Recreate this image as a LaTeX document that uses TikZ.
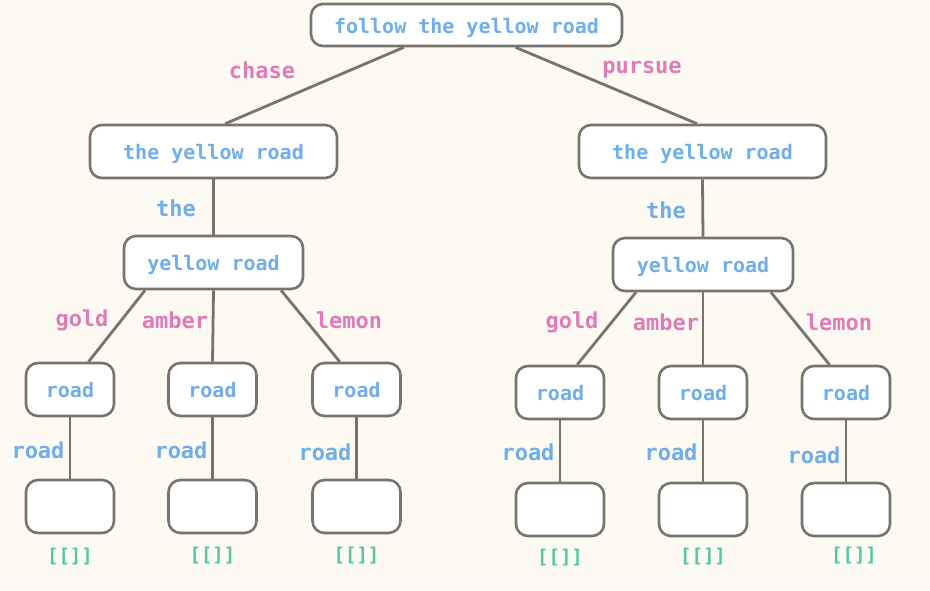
\documentclass[tikz,border=0pt]{standalone}
\usepackage{fontspec}
\setmonofont{DejaVu Sans Mono}
\usetikzlibrary{calc}
\definecolor{bg}{HTML}{FDF9F3}
\definecolor{edgec}{HTML}{77746E}
\definecolor{bluet}{HTML}{70AEEA}
\definecolor{pinkt}{HTML}{E07BB8}
\definecolor{greent}{HTML}{52C89E}
\tikzset{
  box/.style={draw=edgec, line width=2.6pt, fill=white, rounded corners=12pt, inner sep=0pt,
    font=\ttfamily\bfseries\fontsize{20}{20}\selectfont, text=bluet, minimum height=53pt,
    text height=16pt, text depth=0pt},
  edge/.style={draw=edgec, line width=2.8pt},
  elab/.style={inner sep=0pt, font=\ttfamily\bfseries\fontsize{22}{22}\selectfont, text=pinkt},
  blab/.style={inner sep=0pt, font=\ttfamily\bfseries\fontsize{22}{22}\selectfont, text=bluet},
  glab/.style={inner sep=0pt, font=\ttfamily\bfseries\fontsize{19}{19}\selectfont, text=greent},
}
\begin{document}
\begin{tikzpicture}[x=1pt,y=-1pt]
\fill[bg] (0,0) rectangle (930,590);
\useasboundingbox (0,0) rectangle (930,590);
% nodes
\node[box, minimum width=311pt, minimum height=42pt] (root) at (466.5,25) {follow the yellow road};
\node[box, minimum width=247pt] (l1) at (213.5,151.5) {the yellow road};
\node[box, minimum width=247pt] (r1) at (702.5,151.5) {the yellow road};
\node[box, minimum width=179pt] (l2) at (213.5,262.5) {yellow road};
\node[box, minimum width=180pt] (r2) at (703,264.5) {yellow road};
\node[box, minimum width=88pt] (la) at (70,389.5) {road};
\node[box, minimum width=88pt] (lb) at (212.5,389.5) {road};
\node[box, minimum width=88pt] (lc) at (356.5,389.5) {road};
\node[box, minimum width=88pt] (ra) at (560,392.5) {road};
\node[box, minimum width=88pt] (rb) at (703,392.5) {road};
\node[box, minimum width=88pt] (rc) at (846,392.5) {road};
\node[box, minimum width=88pt] (la2) at (70,506.5) {};
\node[box, minimum width=88pt] (lb2) at (212.5,506.5) {};
\node[box, minimum width=88pt] (lc2) at (356.5,506.5) {};
\node[box, minimum width=88pt] (ra2) at (560,509.5) {};
\node[box, minimum width=88pt] (rb2) at (703,509.5) {};
\node[box, minimum width=88pt] (rc2) at (846,509.5) {};
% edges
\draw[edge] ($(root.south west)!0.30!(root.south east)$) -- ($(l1.north west)!0.547!(l1.north east)$);
\draw[edge] ($(root.south west)!0.656!(root.south east)$) -- ($(r1.north west)!0.478!(r1.north east)$);
\draw[edge] (l1.south) -- (l2.north);
\draw[edge] (r1.south) -- (r2.north);
\draw[edge] ($(l2.south west)!0.123!(l2.south east)$) -- ($(la.north west)!0.705!(la.north east)$);
\draw[edge] (l2.south) -- (lb.north);
\draw[edge] ($(l2.south west)!0.872!(l2.south east)$) -- ($(lc.north west)!0.315!(lc.north east)$);
\draw[edge] ($(r2.south west)!0.133!(r2.south east)$) -- ($(ra.north west)!0.69!(ra.north east)$);
\draw[edge] (r2.south) -- (rb.north);
\draw[edge] ($(r2.south west)!0.872!(r2.south east)$) -- ($(rc.north west)!0.318!(rc.north east)$);
\draw[edge] (la.south) -- (la2.north);
\draw[edge] (lb.south) -- (lb2.north);
\draw[edge] (lc.south) -- (lc2.north);
\draw[edge] (ra.south) -- (ra2.north);
\draw[edge] (rb.south) -- (rb2.north);
\draw[edge] (rc.south) -- (rc2.north);
% labels
\node[elab] (t1) at (262,70) {chase};
\node[elab] (t2) at (642,70) {pursue};
\node[blab] (t3) at (176,208) {the};
\node[blab] (t4) at (666,210) {the};
\node[elab] (t5) at (82,320) {gold};
\node[elab] (t6) at (175,320) {amber};
\node[elab] (t7) at (349,320) {lemon};
\node[elab] (t8) at (572,322) {gold};
\node[elab] (t9) at (666,322) {amber};
\node[elab] (t10) at (839,322) {lemon};
\node[blab] (u1) at (38,450) {road};
\node[blab] (u2) at (181,450) {road};
\node[blab] (u3) at (325,452) {road};
\node[blab] (u4) at (528,452) {road};
\node[blab] (u5) at (671,452) {road};
\node[blab] (u6) at (814,455) {road};
\node[glab] (g1) at (70,557) {[[]]};
\node[glab] (g2) at (212.5,556) {[[]]};
\node[glab] (g3) at (356.5,556) {[[]]};
\node[glab] (g4) at (560,558) {[[]]};
\node[glab] (g5) at (703,557) {[[]]};
\node[glab] (g6) at (854,556) {[[]]};
\end{tikzpicture}
\end{document}
